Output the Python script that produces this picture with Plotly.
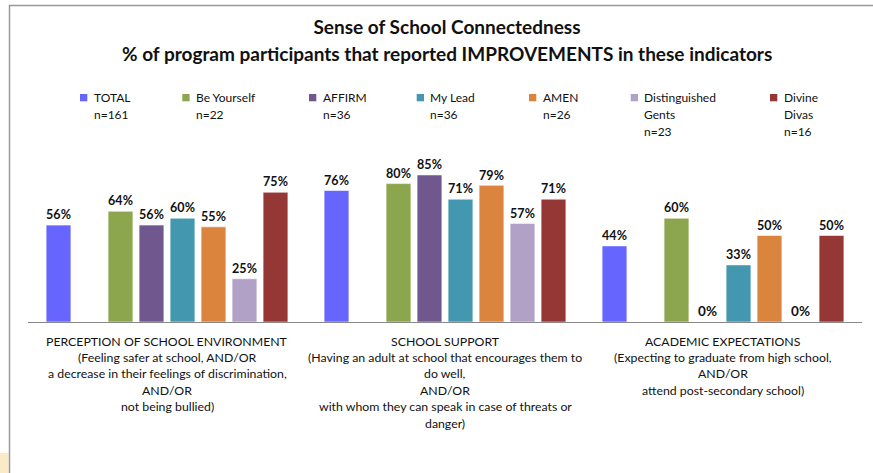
import plotly.graph_objects as go

# ---------------- data ----------------
categories = ["PERCEPTION OF SCHOOL ENVIRONMENT", "SCHOOL SUPPORT", "ACADEMIC EXPECTATIONS"]
category_lines = [
    ["PERCEPTION OF SCHOOL ENVIRONMENT", "(Feeling safer at school, AND/OR",
     "a decrease in their feelings of discrimination,", "AND/OR", "not being bullied)"],
    ["SCHOOL SUPPORT", "(Having an adult at school that encourages them to", "do well,",
     "AND/OR", "with whom they can speak in case of threats or", "danger)"],
    ["ACADEMIC EXPECTATIONS", "(Expecting to graduate from high school,", "AND/OR",
     "attend post-secondary school)"],
]
series_names = ["TOTAL", "Be Yourself", "AFFIRM", "My Lead", "AMEN", "Distinguished Gents", "Divine Divas"]
legend_lines = [["TOTAL"], ["Be Yourself"], ["AFFIRM"], ["My Lead"], ["AMEN"],
                ["Distinguished", "Gents"], ["Divine", "Divas"]]
n_counts = [161, 22, 36, 36, 26, 23, 16]

total = [56, 76, 44]
be_yourself = [64, 80, 60]
affirm = [56, 85, 0]
my_lead = [60, 71, 33]
amen = [55, 79, 50]
distinguished_gents = [25, 57, 0]
divine_divas = [75, 71, 50]
series_values = [total, be_yourself, affirm, my_lead, amen, distinguished_gents, divine_divas]

colors = ["#6666FF", "#8BA64C", "#70588E", "#4398AF", "#DB843D", "#B2A1C7", "#953735"]

title_line1 = "Sense of School Connectedness"
title_line2 = "% of program participants that reported IMPROVEMENTS in these indicators"

# ---------------- layout geometry (pixels) ----------------
W, H = 873, 473
ML, MR, MT, MB = 28, 11, 149, 151
PW, PH = W - ML - MR, H - MT - MB
FONT = "Lato"


def px2x(px):
    return (px - ML) / PW


def px2y(py):
    return (H - MB - py) / PH


fig = go.Figure()

# series order inside each group: TOTAL, (empty slot), the programs
order = [0, None, 1, 2, 3, 4, 5, 6]
for idx in order:
    if idx is None:
        fig.add_trace(go.Bar(x=categories, y=[0, 0, 0], marker=dict(color="rgba(0,0,0,0)", line=dict(width=0)),
                             showlegend=False, hoverinfo="skip"))
        continue
    vals = series_values[idx]
    fig.add_trace(go.Bar(
        x=categories, y=vals, name=series_names[idx],
        marker=dict(color=colors[idx], line=dict(color="rgba(255,255,255,0.55)", width=1)),
        text=[f"{v}%" for v in vals], textposition="outside",
        textfont=dict(family=FONT, size=13.5, color="#111111", weight="bold"),
        outsidetextfont=dict(family=FONT, size=13.5, color="#111111", weight="bold"),
        cliponaxis=False, showlegend=False,
    ))

annotations = []
shapes = []

# second title line
annotations.append(dict(text=f"<b>{title_line2}</b>", xref="paper", yref="paper",
                        x=px2x(447), y=px2y(53), xanchor="center", yanchor="middle",
                        showarrow=False, font=dict(family=FONT, size=19, color="#111111")))

# manual legend (Excel-style, text wrapped under the label)
legend_marker_x = [80, 182.3, 309, 416.7, 529, 630.7, 770]
legend_line_y = [97.7, 114.3, 131.0]
for i, name in enumerate(series_names):
    mx = legend_marker_x[i]
    shapes.append(dict(type="rect", xref="paper", yref="paper",
                       x0=px2x(mx), x1=px2x(mx + 7.3), y0=px2y(94), y1=px2y(101.3),
                       fillcolor=colors[i], line=dict(width=0)))
    lines = legend_lines[i] + [f"n={n_counts[i]}"]
    for j, ln in enumerate(lines):
        annotations.append(dict(text=ln, xref="paper", yref="paper",
                                x=px2x(mx + 11.5), y=px2y(legend_line_y[j]),
                                xanchor="left", yanchor="middle", showarrow=False,
                                font=dict(family=FONT, size=12, color="#111111")))

# category labels
for c, lines in zip(categories, category_lines):
    for j, ln in enumerate(lines):
        annotations.append(dict(text=ln, xref="x", yref="paper", x=c, y=px2y(341 + 16.4 * j),
                                xanchor="center", yanchor="middle", showarrow=False,
                                font=dict(family=FONT, size=12.3, color="#111111")))

# outer frame (partially visible) and pale corner
shapes.append(dict(type="path", xref="paper", yref="paper",
                   path=f"M {px2x(9.5)} {px2y(H)} L {px2x(9.5)} {px2y(5.5)} L {px2x(W)} {px2y(5.5)}",
                   line=dict(color="#9A9A9A", width=1.5)))
shapes.append(dict(type="rect", xref="paper", yref="paper",
                   x0=px2x(0), x1=px2x(8.5), y0=px2y(H), y1=px2y(453),
                   fillcolor="#FBEAC6", line=dict(width=0), layer="below"))

fig.update_layout(
    width=W, height=H,
    margin=dict(l=ML, r=MR, t=MT, b=MB),
    paper_bgcolor="white", plot_bgcolor="white",
    title=dict(text=f"<b>{title_line1}</b>", x=447 / W, xanchor="center",
               y=1 - 27 / H, yanchor="middle", yref="container",
               font=dict(family=FONT, size=19, color="#111111")),
    barmode="group", bargap=30 / 278, bargroupgap=0.2,
    showlegend=False,
    xaxis=dict(showticklabels=False, showline=True, linecolor="#888888", linewidth=1.3,
               ticks="", showgrid=False, zeroline=False),
    yaxis=dict(range=[0, 100], visible=False, showgrid=False, zeroline=False),
    annotations=annotations, shapes=shapes,
    font=dict(family=FONT),
)

fig.write_html("out.html", config={"displayModeBar": False},
               post_script="document.body.style.margin='0';document.body.style.overflow='hidden';")
